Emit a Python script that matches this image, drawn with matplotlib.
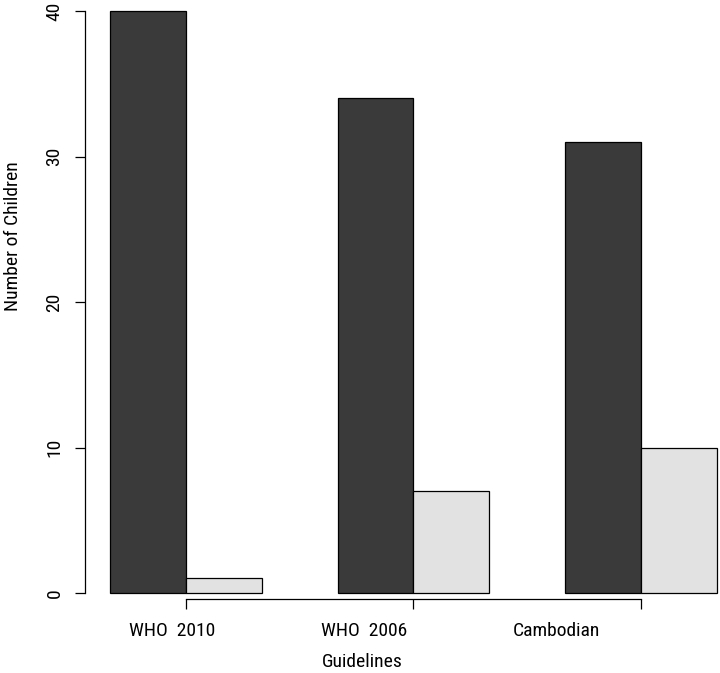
"""Grouped bar chart: number of children by guideline (R barplot look)."""

import matplotlib
matplotlib.use("Agg")
import matplotlib.pyplot as plt
import numpy as np

GUIDELINES = ["WHO  2010", "WHO  2006", "Cambodian"]
SERIES_A = [40, 34, 31]   # dark bars
SERIES_B = [1, 7, 10]     # light bars
Y_TICKS = [0, 10, 20, 30, 40]

COLOR_A = "#3a3a3a"
COLOR_B = "#e2e2e2"
# category labels in the source sit left of their ticks
LABEL_SHIFT = [-0.18, -0.65, -1.12]
FONT_SIZE = 14

plt.rcParams["font.family"] = ["Roboto Condensed", "Liberation Sans", "DejaVu Sans"]


def main() -> None:
    fig = plt.figure(figsize=(7.2, 6.73), dpi=100)
    ax = fig.add_axes([85 / 720, 80 / 673, 632 / 720, 582 / 673])

    # R barplot(beside=TRUE): bar width 1, one empty slot between groups
    n = len(GUIDELINES)
    starts = 1 + 3 * np.arange(n)
    centers = starts + 1
    ax.bar(starts, SERIES_A, width=1, align="edge", color=COLOR_A,
           edgecolor="black", linewidth=0.9, clip_on=False)
    ax.bar(starts + 1, SERIES_B, width=1, align="edge", color=COLOR_B,
           edgecolor="black", linewidth=0.9, clip_on=False)

    ax.set_xlim(1 - 25 / 75.9, 3 * n)
    ax.set_ylim(0, 40)

    for side in ("top", "right"):
        ax.spines[side].set_visible(False)
    ax.spines["left"].set_bounds(0, 40)
    ax.spines["left"].set_linewidth(0.9)
    ax.spines["bottom"].set_position(("outward", 4.5))
    ax.spines["bottom"].set_bounds(centers[0], centers[-1])
    ax.spines["bottom"].set_linewidth(0.9)

    ax.set_yticks(Y_TICKS)
    ax.set_yticklabels([str(v) for v in Y_TICKS], rotation=90, va="center", fontsize=FONT_SIZE)
    ax.tick_params(axis="y", length=7.5, width=0.9, pad=8)
    ax.set_xticks(centers)
    ax.set_xticklabels([])
    ax.tick_params(axis="x", length=7.5, width=0.9)

    for cx, shift, name in zip(centers, LABEL_SHIFT, GUIDELINES):
        ax.text(cx + shift, -38 / 582, name, transform=ax.get_xaxis_transform(),
                ha="center", va="center", fontsize=FONT_SIZE)

    ax.text(4.33, -69 / 582, "Guidelines", transform=ax.get_xaxis_transform(),
            ha="center", va="center", fontsize=FONT_SIZE)
    ax.text(-72 / 632, 24.5, "Number of Children", transform=ax.get_yaxis_transform(),
            rotation=90, ha="center", va="center", fontsize=FONT_SIZE)

    fig.savefig("out.png", dpi=100)
    plt.close(fig)


if __name__ == "__main__":
    main()
